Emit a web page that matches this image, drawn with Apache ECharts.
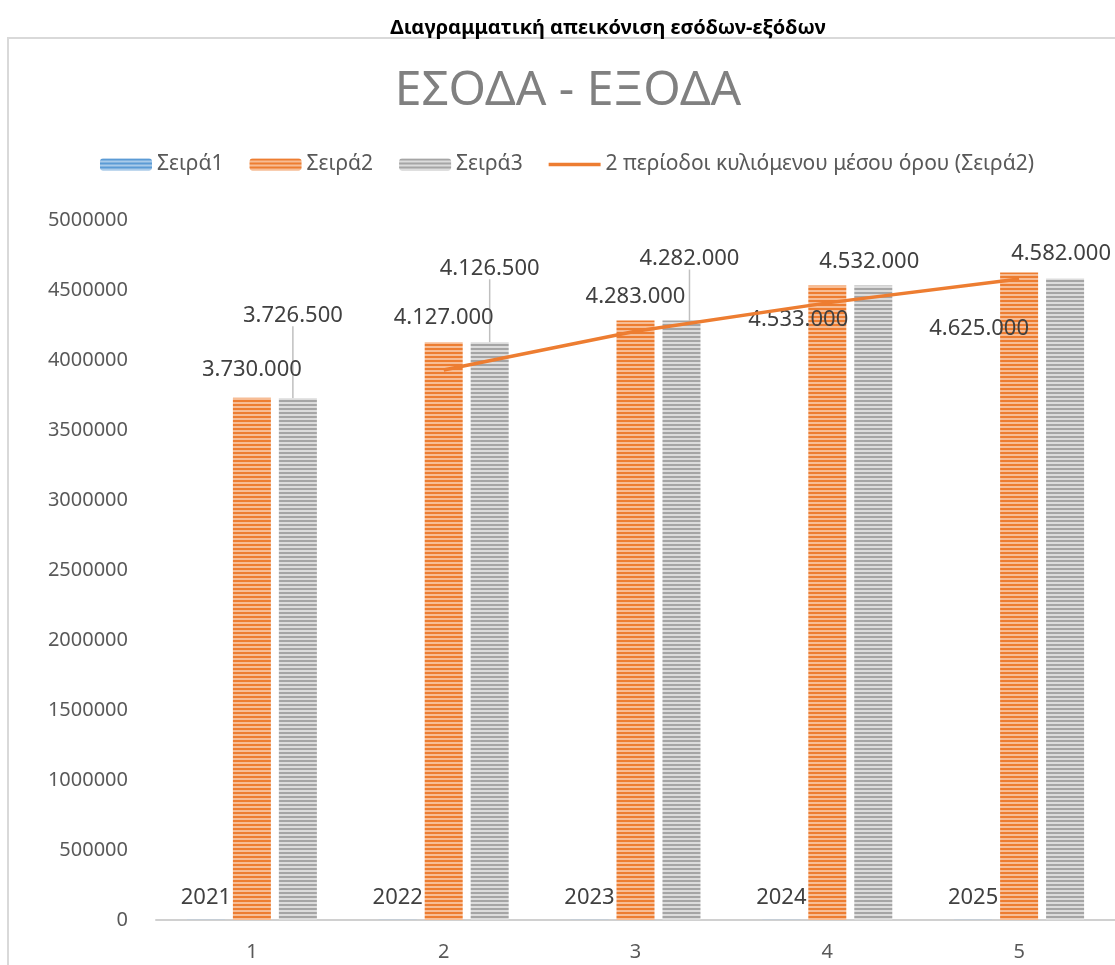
<!DOCTYPE html>
<html>
<head>
<meta charset="utf-8">
<script src="https://cdn.jsdelivr.net/npm/echarts@6/dist/echarts.min.js"></script>
<style>
  html, body { margin: 0; padding: 0; background: #fff; }
  #chart_con { width: 1115px; height: 965px; }
</style>
</head>
<body>
<div id="chart_con"></div>
<script>
    // values
    var categories = ['1', '2', '3', '4', '5'];
    var seira1 = [2021, 2022, 2023, 2024, 2025];
    var seira2 = [3730000, 4127000, 4283000, 4533000, 4625000];
    var seira3 = [3726500, 4126500, 4282000, 4532000, 4582000];
    var movingAvg = [null, 3928500, 4205000, 4408000, 4579000];

    // label nudges (dx, dy) so the labels sit like in the excel chart
    var s2Shift = [[0, -12], [0, -8], [0, -8], [-29, 50], [-40, 72]];
    var s3Shift = [[-5, -67], [0, -58], [8, -46], [-4, -8], [-4, -9]];
    var s3Leader = [true, true, true, false, false];

    var FONT = 'Noto Sans';
    var MA_NAME = '2 περίοδοι κυλιόμενου μέσου όρου (Σειρά2)';

    function stripes(dark, light) {
        var c = document.createElement('canvas');
        c.width = 4;
        c.height = 4;
        var ctx = c.getContext('2d');
        ctx.fillStyle = light;
        ctx.fillRect(0, 0, 4, 4);
        ctx.fillStyle = dark;
        ctx.fillRect(0, 0, 4, 2);
        return { image: c, repeat: 'repeat' };
    }

    function dotted(v) {
        return String(v).replace(/\B(?=(\d{3})+(?!\d))/g, '.');
    }

    var labelText = { fontFamily: FONT, fontSize: 22, color: '#404040' };

    var option = {
        animation: false,
        backgroundColor: '#fff',
        title: [
            {
                text: 'Διαγραμματική απεικόνιση εσόδων-εξόδων',
                left: 603,
                textAlign: 'center',
                top: 13,
                textStyle: { fontFamily: FONT, fontSize: 20, fontWeight: 'bold', color: '#000' }
            },
            {
                text: 'ΕΣΟΔΑ - ΕΞΟΔΑ',
                left: 563,
                textAlign: 'center',
                top: 62,
                textStyle: { fontFamily: FONT, fontSize: 48, fontWeight: 'normal', color: '#808080' }
            }
        ],
        graphic: [
            {
                type: 'rect',
                z: -1,
                shape: { x: 8, y: 38, width: 1200, height: 1000 },
                style: { fill: 'none', stroke: '#d9d9d9', lineWidth: 2 }
            }
        ],
        legend: {
            left: 95,
            top: 149,
            itemWidth: 52,
            itemHeight: 12,
            itemGap: 26,
            textStyle: { fontFamily: FONT, fontSize: 21, color: '#595959' },
            data: [
                'Σειρά1', 'Σειρά2', 'Σειρά3',
                { name: MA_NAME, icon: 'path://M0,0L0,0.01M0,4.2L52,4.2L52,7.8L0,7.8ZM0,12L0,12.01' }
            ]
        },
        grid: {
            left: 156,
            right: -1,
            top: 220,
            bottom: 45
        },
        xAxis: {
            type: 'category',
            data: categories,
            axisTick: { show: false },
            axisLine: { lineStyle: { color: '#d0d0d0', width: 2 } },
            axisLabel: { fontFamily: FONT, fontSize: 20, color: '#595959', margin: 22 }
        },
        yAxis: {
            type: 'value',
            min: 0,
            max: 5000000,
            interval: 500000,
            splitLine: { show: false },
            axisLine: { show: false },
            axisLabel: {
                fontFamily: FONT, fontSize: 20, color: '#595959', margin: 28,
                formatter: function (v) { return String(v); }
            }
        },
        series: [
            {
                name: 'Σειρά1',
                type: 'bar',
                barWidth: 38,
                barGap: '21%',
                data: seira1,
                itemStyle: { color: stripes('#5b9bd5', '#a9cbea') },
                label: {
                    show: true,
                    position: 'top',
                    offset: [0, -6],
                    textStyle: labelText,
                    formatter: function (p) { return String(p.value); }
                }
            },
            {
                name: 'Σειρά2',
                type: 'bar',
                barWidth: 38,
                barGap: '21%',
                data: seira2,
                itemStyle: { color: stripes('#ed7d31', '#f7bd95') },
                label: {
                    show: true,
                    position: 'top',
                    distance: 5,
                    textStyle: labelText,
                    formatter: function (p) { return dotted(p.value); }
                },
                labelLayout: function (p) {
                    var s = s2Shift[p.dataIndex];
                    return { dx: s[0], dy: s[1] };
                }
            },
            {
                name: 'Σειρά3',
                type: 'bar',
                barWidth: 38,
                barGap: '21%',
                data: seira3.map(function (v, i) {
                    return { value: v, labelLine: { show: s3Leader[i] } };
                }),
                itemStyle: { color: stripes('#a5a5a5', '#dcdcdc') },
                label: {
                    show: true,
                    position: 'top',
                    distance: 5,
                    textStyle: labelText,
                    formatter: function (p) { return dotted(p.value); }
                },
                labelLine: {
                    show: true,
                    lineStyle: { color: '#bfbfbf', width: 1.5 }
                },
                labelLayout: function (p) {
                    var s = s3Shift[p.dataIndex];
                    return { dx: s[0], dy: s[1] };
                }
            },
            {
                name: MA_NAME,
                type: 'line',
                data: movingAvg,
                symbol: 'none',
                z: 5,
                lineStyle: { color: '#ed7d31', width: 3.5 },
                itemStyle: { color: '#ed7d31' }
            }
        ]
    };

    var chart = echarts.init(document.getElementById('chart_con'));
    chart.setOption(option);

    window.addEventListener('resize', function () {
        chart.resize();
    });
</script>
</body>
</html>
